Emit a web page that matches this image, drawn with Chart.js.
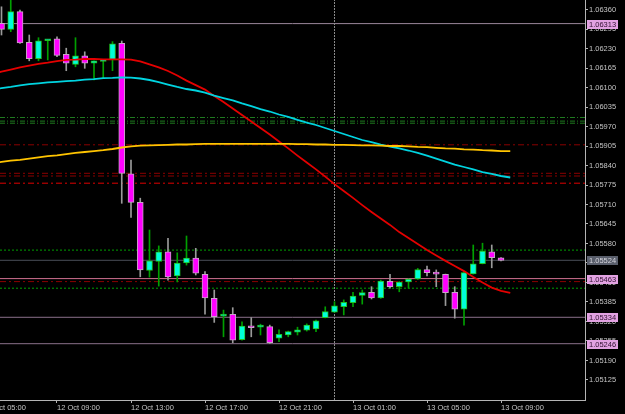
<!DOCTYPE html>
<html>
<head>
<meta charset="utf-8">
<script src="https://cdn.jsdelivr.net/npm/chart.js@4.4.1/dist/chart.umd.min.js"></script>
<style>
  html, body { margin: 0; padding: 0; background: #000; }
</style>
</head>
<body>
<canvas id="eurusdChart" width="625" height="414"></canvas>
<script>
// M30 bars, bar index 0 = 12 Oct 05:00
const firstBar = 2;
const opens  = [1.06314, 1.06294, 1.06353, 1.06251, 1.06196, 1.06256, 1.06262, 1.06211, 1.06177, 1.06206, 1.06181, 1.06187, 1.06192, 1.06247, 1.05812, 1.05717, 1.05490, 1.05520, 1.05552, 1.05472, 1.05515, 1.05531, 1.05477, 1.05397, 1.05338, 1.05344, 1.05259, 1.05305, 1.05301, 1.05303, 1.05264, 1.05275, 1.05284, 1.05291, 1.05295, 1.05333, 1.05351, 1.05369, 1.05383, 1.05407, 1.05417, 1.05399, 1.05454, 1.05436, 1.05452, 1.05462, 1.05493, 1.05480, 1.05477, 1.05417, 1.05361, 1.05479, 1.05513, 1.05552, 1.05532];
const highs  = [1.06369, 1.06402, 1.06358, 1.06275, 1.06266, 1.06259, 1.06269, 1.06231, 1.06266, 1.06219, 1.06189, 1.06190, 1.06253, 1.06255, 1.05858, 1.05731, 1.05625, 1.05572, 1.05597, 1.05549, 1.05605, 1.05564, 1.05486, 1.05425, 1.05358, 1.05366, 1.05319, 1.05333, 1.05311, 1.05308, 1.05292, 1.05288, 1.05301, 1.05312, 1.05325, 1.05369, 1.05386, 1.05392, 1.05417, 1.05425, 1.05436, 1.05458, 1.05477, 1.05453, 1.05462, 1.05497, 1.05505, 1.05492, 1.05478, 1.05436, 1.05486, 1.05575, 1.05581, 1.05575, 1.05533];
const lows   = [1.06275, 1.06286, 1.06247, 1.06189, 1.06189, 1.06192, 1.06203, 1.06156, 1.06169, 1.06164, 1.06125, 1.06131, 1.06156, 1.05714, 1.05667, 1.05469, 1.05468, 1.05438, 1.05458, 1.05452, 1.05508, 1.05475, 1.05344, 1.05317, 1.05269, 1.05249, 1.05258, 1.05269, 1.05275, 1.05247, 1.05253, 1.05269, 1.05275, 1.05288, 1.05286, 1.05332, 1.05350, 1.05342, 1.05369, 1.05378, 1.05395, 1.05397, 1.05431, 1.05419, 1.05431, 1.05460, 1.05472, 1.05436, 1.05373, 1.05331, 1.05308, 1.05478, 1.05512, 1.05499, 1.05522];
const closes = [1.06294, 1.06353, 1.06249, 1.06196, 1.06256, 1.06259, 1.06207, 1.06181, 1.06206, 1.06181, 1.06189, 1.06190, 1.06246, 1.05814, 1.05717, 1.05492, 1.05522, 1.05552, 1.05469, 1.05515, 1.05531, 1.05481, 1.05399, 1.05336, 1.05344, 1.05258, 1.05305, 1.05299, 1.05305, 1.05249, 1.05277, 1.05286, 1.05292, 1.05308, 1.05322, 1.05353, 1.05372, 1.05384, 1.05405, 1.05416, 1.05399, 1.05455, 1.05436, 1.05451, 1.05461, 1.05493, 1.05483, 1.05478, 1.05416, 1.05361, 1.05483, 1.05512, 1.05555, 1.05533, 1.05524];

// moving averages, one value per bar starting at bar 1
const maFirstBar = 1;
const maRed = [1.06145, 1.06153, 1.06160, 1.06167, 1.06173, 1.06179, 1.06183, 1.06188, 1.06192, 1.06193, 1.06195, 1.06195, 1.06194, 1.06194, 1.06194, 1.06193, 1.06187, 1.06177, 1.06167, 1.06155, 1.06140, 1.06123, 1.06108, 1.06093, 1.06072, 1.06052, 1.06030, 1.06008, 1.05987, 1.05965, 1.05943, 1.05920, 1.05897, 1.05873, 1.05850, 1.05827, 1.05803, 1.05778, 1.05755, 1.05732, 1.05708, 1.05685, 1.05663, 1.05642, 1.05618, 1.05598, 1.05578, 1.05558, 1.05540, 1.05522, 1.05505, 1.05488, 1.05468, 1.05450, 1.05433, 1.05422, 1.05415];
const maCyan = [1.06093, 1.06098, 1.06102, 1.06107, 1.06111, 1.06114, 1.06117, 1.06119, 1.06121, 1.06123, 1.06126, 1.06128, 1.06131, 1.06132, 1.06134, 1.06133, 1.06130, 1.06125, 1.06118, 1.06110, 1.06102, 1.06095, 1.06090, 1.06083, 1.06073, 1.06065, 1.06057, 1.06047, 1.06038, 1.06028, 1.06020, 1.06010, 1.06002, 1.05992, 1.05983, 1.05975, 1.05965, 1.05955, 1.05945, 1.05935, 1.05925, 1.05918, 1.05910, 1.05903, 1.05897, 1.05890, 1.05882, 1.05873, 1.05863, 1.05853, 1.05843, 1.05835, 1.05827, 1.05818, 1.05812, 1.05805, 1.05800];
const maGold = [1.05848, 1.05852, 1.05856, 1.05859, 1.05863, 1.05867, 1.05871, 1.05874, 1.05878, 1.05882, 1.05885, 1.05888, 1.05891, 1.05895, 1.05900, 1.05904, 1.05906, 1.05907, 1.05908, 1.05909, 1.05910, 1.05910, 1.05911, 1.05912, 1.05912, 1.05912, 1.05912, 1.05912, 1.05912, 1.05912, 1.05912, 1.05912, 1.05912, 1.05911, 1.05911, 1.05910, 1.05910, 1.05909, 1.05909, 1.05908, 1.05907, 1.05907, 1.05906, 1.05905, 1.05905, 1.05904, 1.05902, 1.05901, 1.05899, 1.05897, 1.05896, 1.05894, 1.05893, 1.05891, 1.05890, 1.05888, 1.05888];

const tickBars = [0, 8, 16, 24, 32, 40, 48, 56];
const tickLabels = ['12 Oct 05:00', '12 Oct 09:00', '12 Oct 13:00', '12 Oct 17:00', '12 Oct 21:00', '13 Oct 01:00', '13 Oct 05:00', '13 Oct 09:00'];
const priceTicks = [1.06360, 1.06295, 1.06230, 1.06165, 1.06100, 1.06035, 1.05970, 1.05905, 1.05840, 1.05775, 1.05710, 1.05645, 1.05580, 1.05515, 1.05450, 1.05385, 1.05320, 1.05255, 1.05190, 1.05125];

const levelPrices = [1.06313, 1.06000, 1.05988, 1.05981, 1.05909, 1.05814, 1.05805, 1.05781, 1.05558, 1.05524, 1.05463, 1.05453, 1.05431, 1.05334, 1.05246];
const tagPrices = [1.06313, 1.05524, 1.05463, 1.05334, 1.05246];
const bidPrice = 1.05524;
const separatorBar = 38;

// visible window
const X_MIN = 1.838, X_MAX = 65.08;
const Y_MIN = 1.050583, Y_MAX = 1.063917;

const levelStyles = [
    { color: '#9a869a', dash: [] },
    { color: '#1f7a1f', dash: [5, 2, 1, 2] },
    { color: '#1f7a1f', dash: [5, 2, 1, 2] },
    { color: '#1f7a1f', dash: [5, 2, 1, 2] },
    { color: '#8b0000', dash: [6, 3, 2, 3] },
    { color: '#8b0000', dash: [6, 3, 2, 3] },
    { color: '#8b0000', dash: [6, 3, 2, 3] },
    { color: '#e00000', dash: [6, 3, 2, 3] },
    { color: '#00a000', dash: [2, 2] },
    { color: '#4a4e58', dash: [] },
    { color: '#d07090', dash: [] },
    { color: '#8b0000', dash: [6, 3, 2, 3] },
    { color: '#00a000', dash: [2, 2] },
    { color: '#8a708a', dash: [] },
    { color: '#8a708a', dash: [] }
];

const bars = opens.map((o, i) => ({ k: firstBar + i, o: o, h: highs[i], l: lows[i], c: closes[i] }));
const bullBars = bars.filter(b => b.c >= b.o);
const bearBars = bars.filter(b => b.c < b.o);

const font = { family: 'Liberation Sans', size: 7.5 };

const blackBg = {
    id: 'blackBg',
    beforeDraw(chart) {
        const ctx = chart.ctx;
        ctx.save();
        ctx.fillStyle = '#000';
        ctx.fillRect(0, 0, chart.width, chart.height);
        ctx.restore();
    }
};

const priceTags = {
    id: 'priceTags',
    afterDraw(chart) {
        const ctx = chart.ctx;
        const y = chart.scales.y;
        ctx.save();
        ctx.font = '7.5px "Liberation Sans"';
        ctx.textBaseline = 'middle';
        tagPrices.forEach(p => {
            const py = Math.round(y.getPixelForValue(p));
            const bid = p === bidPrice;
            ctx.fillStyle = bid ? '#5a5f6c' : '#e2a2e2';
            ctx.fillRect(y.left + 2, py - 4, 31, 9);
            ctx.fillStyle = bid ? '#d4d4dc' : '#301030';
            ctx.fillText(p.toFixed(5), y.left + 4, py + 0.5);
        });
        ctx.restore();
    }
};

const levelSets = levelPrices.map((p, i) => ({
    type: 'line',
    data: [{ x: X_MIN, y: p }, { x: X_MAX, y: p }],
    borderColor: levelStyles[i].color,
    borderDash: levelStyles[i].dash,
    borderWidth: 1,
    pointRadius: 0,
    fill: false,
    order: 10
}));

const maLine = (vals, color) => ({
    type: 'line',
    data: vals.map((v, i) => ({ x: maFirstBar + i, y: v })),
    borderColor: color,
    borderWidth: 1.8,
    pointRadius: 0,
    tension: 0,
    fill: false,
    order: 1
});

new Chart(document.getElementById('eurusdChart'), {
    type: 'bar',
    data: {
        datasets: [
            ...levelSets,
            {
                type: 'line',
                data: [{ x: separatorBar, y: Y_MIN }, { x: separatorBar, y: Y_MAX }],
                borderColor: '#8a8a8a',
                borderDash: [2, 1],
                borderWidth: 1,
                pointRadius: 0,
                order: 9
            },
            {
                data: bullBars.map(b => ({ x: b.k, y: [b.l, b.h] })),
                backgroundColor: '#00a000',
                barThickness: 1,
                grouped: false,
                borderWidth: 0,
                order: 5
            },
            {
                data: bearBars.map(b => ({ x: b.k, y: [b.l, b.h] })),
                backgroundColor: '#9a9a9a',
                barThickness: 1,
                grouped: false,
                borderWidth: 0,
                order: 5
            },
            {
                data: bullBars.map(b => ({ x: b.k, y: [b.o, b.c] })),
                backgroundColor: '#00ffd8',
                borderColor: '#20c020',
                borderWidth: 1,
                borderSkipped: false,
                barThickness: 6,
                minBarLength: 2,
                grouped: false,
                order: 4
            },
            {
                data: bearBars.map(b => ({ x: b.k, y: [b.o, b.c] })),
                backgroundColor: '#ff00ff',
                borderColor: '#c8a4c8',
                borderWidth: 1,
                borderSkipped: false,
                barThickness: 6,
                minBarLength: 2,
                grouped: false,
                order: 4
            },
            maLine(maGold, '#ffc400'),
            maLine(maCyan, '#00d4e0'),
            maLine(maRed, '#e40000')
        ]
    },
    options: {
        responsive: false,
        animation: false,
        events: [],
        layout: { padding: 0 },
        plugins: { legend: { display: false }, tooltip: { enabled: false } },
        scales: {
            x: {
                type: 'linear',
                min: X_MIN,
                max: X_MAX,
                offset: false,
                grid: { drawOnChartArea: false, drawTicks: true, tickLength: 3, tickColor: '#b4b4b4', offset: false },
                border: { display: true, color: '#b4b4b4', width: 1 },
                afterBuildTicks: s => { s.ticks = tickBars.map(v => ({ value: v })); },
                ticks: {
                    autoSkip: false,
                    maxRotation: 0,
                    align: 'start',
                    padding: 0,
                    color: '#c4c4c4',
                    font: font,
                    callback: (v, i) => tickLabels[i]
                },
                afterFit: s => { s.height = 14; s.paddingLeft = 0; s.paddingRight = 0; }
            },
            y: {
                position: 'right',
                min: Y_MIN,
                max: Y_MAX,
                beginAtZero: false,
                grid: { drawOnChartArea: false, drawTicks: true, tickLength: 3, tickColor: '#b4b4b4' },
                border: { display: true, color: '#b4b4b4', width: 1 },
                afterBuildTicks: s => { s.ticks = priceTicks.map(v => ({ value: v })); },
                ticks: {
                    autoSkip: false,
                    padding: 1,
                    color: '#c4c4c4',
                    font: font,
                    callback: v => Number(v).toFixed(5)
                },
                afterFit: s => { s.width = 40; s.paddingTop = 0; s.paddingBottom = 0; }
            }
        }
    },
    plugins: [blackBg, priceTags]
});
</script>
</body>
</html>
